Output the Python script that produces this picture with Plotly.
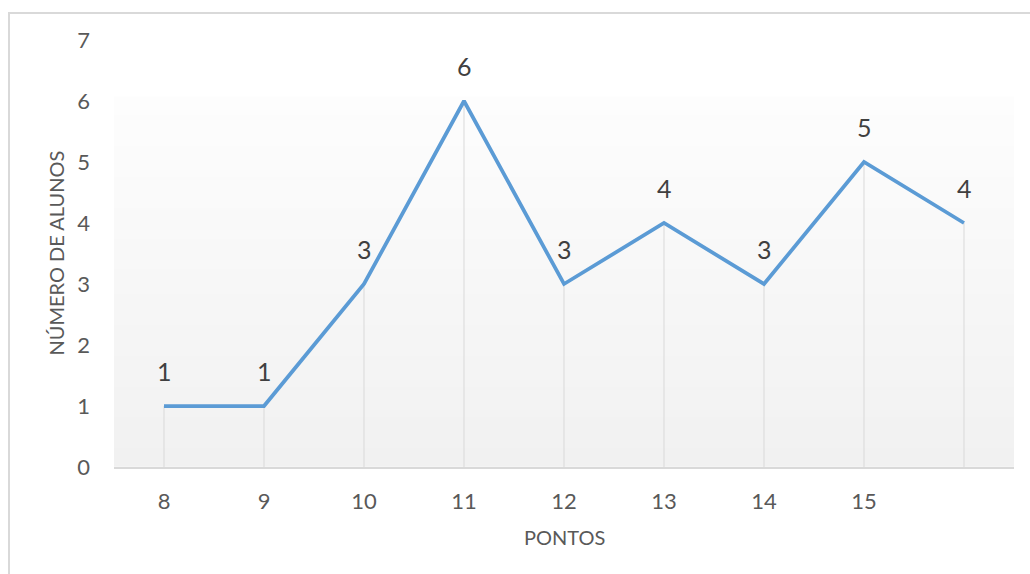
import numpy as np
import plotly.graph_objects as go

# Data
pontos_labels = ["8", "9", "10", "11", "12", "13", "14", "15", ""]
num_alunos = [1, 1, 3, 6, 3, 4, 3, 5, 4]

x_idx = list(range(len(pontos_labels)))

text_color = "#595959"
font_family = "Lato, Open Sans, sans-serif"

fig = go.Figure()

# gradient background panel
n_rows = 60
y_edges = np.linspace(0, 6.07, n_rows + 1)
z = np.arange(n_rows).reshape(-1, 1)
fig.add_trace(go.Heatmap(
    x=[-0.5, len(pontos_labels) - 0.5], y=y_edges, z=z,
    colorscale=[[0, "#f1f1f1"], [1, "#fdfdfd"]], showscale=False,
    hoverinfo="skip",
))

# drop lines
fig.add_trace(go.Scatter(
    x=x_idx, y=num_alunos, mode="none", showlegend=False, hoverinfo="skip",
    error_y=dict(type="data", symmetric=False, array=[0] * len(num_alunos),
                 arrayminus=num_alunos, color="#d9d9d9", thickness=1, width=0),
))

# main line
fig.add_trace(go.Scatter(
    x=x_idx, y=num_alunos, mode="lines", showlegend=False,
    line=dict(color="#5b9bd5", width=3.75),
))

annotations = [
    dict(x=xi, y=yi, text=str(yi), showarrow=False, yshift=35,
         font=dict(size=25, color="#404040", family=font_family),
         xanchor="center", yanchor="middle")
    for xi, yi in zip(x_idx, num_alunos)
]
annotations.append(dict(
    xref="paper", yref="paper", x=0, y=0.5, xshift=-59, text="NÚMERO DE ALUNOS",
    textangle=-90, showarrow=False, font=dict(size=20, color=text_color, family=font_family),
    xanchor="center", yanchor="middle"))
annotations.append(dict(
    xref="paper", yref="paper", x=0.5, y=0, yshift=-70, text="PONTOS",
    showarrow=False, font=dict(size=20, color=text_color, family=font_family),
    xanchor="center", yanchor="middle"))

fig.update_layout(
    width=1030, height=574,
    margin=dict(l=114, r=16, t=40, b=107),
    paper_bgcolor="white", plot_bgcolor="white",
    font=dict(family=font_family, size=20, color=text_color),
    annotations=annotations,
    shapes=[dict(type="rect", xref="paper", yref="paper",
                 x0=(9 - 114) / 900, x1=(1040 - 114) / 900,
                 y0=(467 - 590) / 427, y1=(467 - 13) / 427,
                 line=dict(color="#d9d9d9", width=2), layer="below")],
    xaxis=dict(range=[-0.5, len(pontos_labels) - 0.5], tickmode="array",
               tickvals=x_idx, ticktext=pontos_labels, showgrid=False,
               zeroline=False, showline=True, linecolor="#d9d9d9", linewidth=1.5,
               ticks="", ticklabelstandoff=14,
               tickfont=dict(size=22, color=text_color)),
    yaxis=dict(range=[0, 7], tickvals=list(range(8)), showgrid=False,
               zeroline=False, showline=False, ticks="", ticklabelstandoff=23,
               tickfont=dict(size=22, color=text_color)),
    showlegend=False,
)

fig.write_html("out.html")
